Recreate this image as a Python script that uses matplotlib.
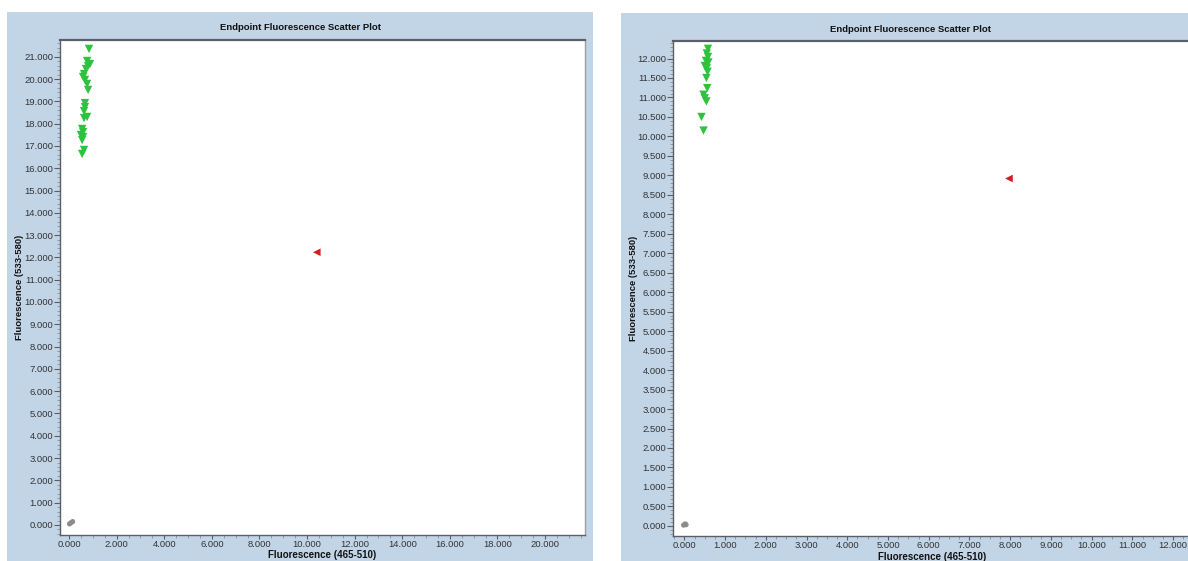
import matplotlib
matplotlib.use("Agg")
import matplotlib.pyplot as plt
from matplotlib.patches import Rectangle
from matplotlib.ticker import MultipleLocator, AutoMinorLocator, FuncFormatter

plt.rcParams['font.family'] = ['Liberation Sans', 'DejaVu Sans']

# Run 1 (left panel): fluorescence readings, thousands of units
run1_pos_x = [0.84, 0.76, 0.88, 0.80, 0.71, 0.63, 0.59, 0.67, 0.76, 0.80, 0.67,
              0.67, 0.63, 0.76, 0.63, 0.55, 0.59, 0.50, 0.59, 0.55, 0.63, 0.55]
run1_pos_y = [21.35, 20.81, 20.67, 20.58, 20.45, 20.22, 20.09, 19.96, 19.78, 19.51, 18.92,
              18.74, 18.56, 18.30, 18.25, 17.76, 17.62, 17.49, 17.40, 17.26, 16.82, 16.64]
run1_ctrl_x = [10.41]
run1_ctrl_y = [12.23]
run1_neg_x = [0.02, 0.08, 0.15]
run1_neg_y = [0.05, 0.10, 0.15]

# Run 2 (right panel)
run2_pos_x = [0.58, 0.55, 0.58, 0.53, 0.59, 0.50, 0.55, 0.57, 0.54, 0.56, 0.47,
              0.50, 0.54, 0.42, 0.47]
run2_pos_y = [12.25, 12.13, 12.04, 11.94, 11.90, 11.81, 11.75, 11.66, 11.50, 11.24, 11.07,
              10.98, 10.90, 10.50, 10.15]
run2_ctrl_x = [7.97]
run2_ctrl_y = [8.92]
run2_neg_x = [-0.02, 0.02, 0.04]
run2_neg_y = [0.02, 0.05, 0.03]

title = "Endpoint Fluorescence Scatter Plot"
xlabel = "Fluorescence (465-510)"
ylabel = "Fluorescence (533-580)"

W, H = 1188, 561
fig = plt.figure(figsize=(W / 100, H / 100), dpi=100)
fig.patch.set_facecolor("white")

PANEL = "#c2d5e7"
GREEN = "#2fc23e"
RED = "#d01f1f"
GRAY = "#8c8c8c"
SPINE = "#5a5e66"


def px_rect(x0, y0, x1, y1):
    # pixel box (top-left origin) -> figure fraction [left, bottom, width, height]
    return [x0 / W, 1 - y1 / H, (x1 - x0) / W, (y1 - y0) / H]


# light blue panel backgrounds, kept behind the axes
for (x0, y0, x1, y1) in [(7, 12, 593, 561), (621, 13, 1188, 561)]:
    l, b, w, h = px_rect(x0, y0, x1, y1)
    fig.patches.append(Rectangle((l, b), w, h, transform=fig.transFigure,
                                 facecolor=PANEL, edgecolor="none", zorder=-10))

fmt = FuncFormatter(lambda v, p: f"{v:.3f}")


def make_panel(box, xlim, ylim, xmaj, ymaj, pos, ctrl, neg, title_xy, xlabel_xy, ylabel_xy):
    ax = fig.add_axes(px_rect(*box), zorder=5)
    ax.set_facecolor("white")
    ax.set_xlim(*xlim)
    ax.set_ylim(*ylim)
    ax.xaxis.set_major_locator(MultipleLocator(xmaj))
    ax.yaxis.set_major_locator(MultipleLocator(ymaj))
    ax.xaxis.set_minor_locator(AutoMinorLocator(4))
    ax.yaxis.set_minor_locator(AutoMinorLocator(5))
    ax.xaxis.set_major_formatter(fmt)
    ax.yaxis.set_major_formatter(fmt)
    ax.tick_params(which="major", length=4, width=0.8, color=SPINE,
                   labelsize=6.8, labelcolor="#333333", pad=1.0)
    ax.tick_params(axis="x", which="major", length=3, pad=0.5)
    ax.tick_params(which="minor", length=2, width=0.6, color="#8a8f99")
    for side in ["left", "bottom"]:
        ax.spines[side].set_color(SPINE)
        ax.spines[side].set_linewidth(1.0)
    ax.spines["top"].set_color(SPINE)
    ax.spines["top"].set_linewidth(1.6)
    ax.spines["right"].set_color("#9aa0a8")
    ax.spines["right"].set_linewidth(1.0)

    ax.scatter(neg[0], neg[1], marker="o", s=14, color=GRAY, edgecolors="none", zorder=3)
    ax.scatter(ctrl[0], ctrl[1], marker="<", s=30, color=RED, edgecolors="none", zorder=3)
    ax.scatter(pos[0], pos[1], marker="v", s=36, color=GREEN, edgecolors="none", zorder=3)

    fig.text(title_xy[0] / W, 1 - title_xy[1] / H, title, ha="center", va="center",
             fontsize=6.8, fontweight="bold", color="#111111", zorder=6)
    fig.text(xlabel_xy[0] / W, 1 - xlabel_xy[1] / H, xlabel, ha="center", va="center",
             fontsize=7.0, fontweight="bold", color="#111111", zorder=6)
    fig.text(ylabel_xy[0] / W, 1 - ylabel_xy[1] / H, ylabel, ha="center", va="center",
             rotation=90, fontsize=6.8, fontweight="bold", color="#111111", zorder=6)
    return ax


make_panel((60, 40, 585, 535), (-0.38, 21.68), (-0.45, 21.75), 2.0, 1.0,
           (run1_pos_x, run1_pos_y), (run1_ctrl_x, run1_ctrl_y), (run1_neg_x, run1_neg_y),
           (300, 28), (322, 555.5), (20, 287))

make_panel((673, 41, 1191, 536), (-0.28, 12.44), (-0.26, 12.45), 1.0, 0.5,
           (run2_pos_x, run2_pos_y), (run2_ctrl_x, run2_ctrl_y), (run2_neg_x, run2_neg_y),
           (910, 29), (932, 556.5), (634, 288))

fig.savefig("out.png", dpi=100)
